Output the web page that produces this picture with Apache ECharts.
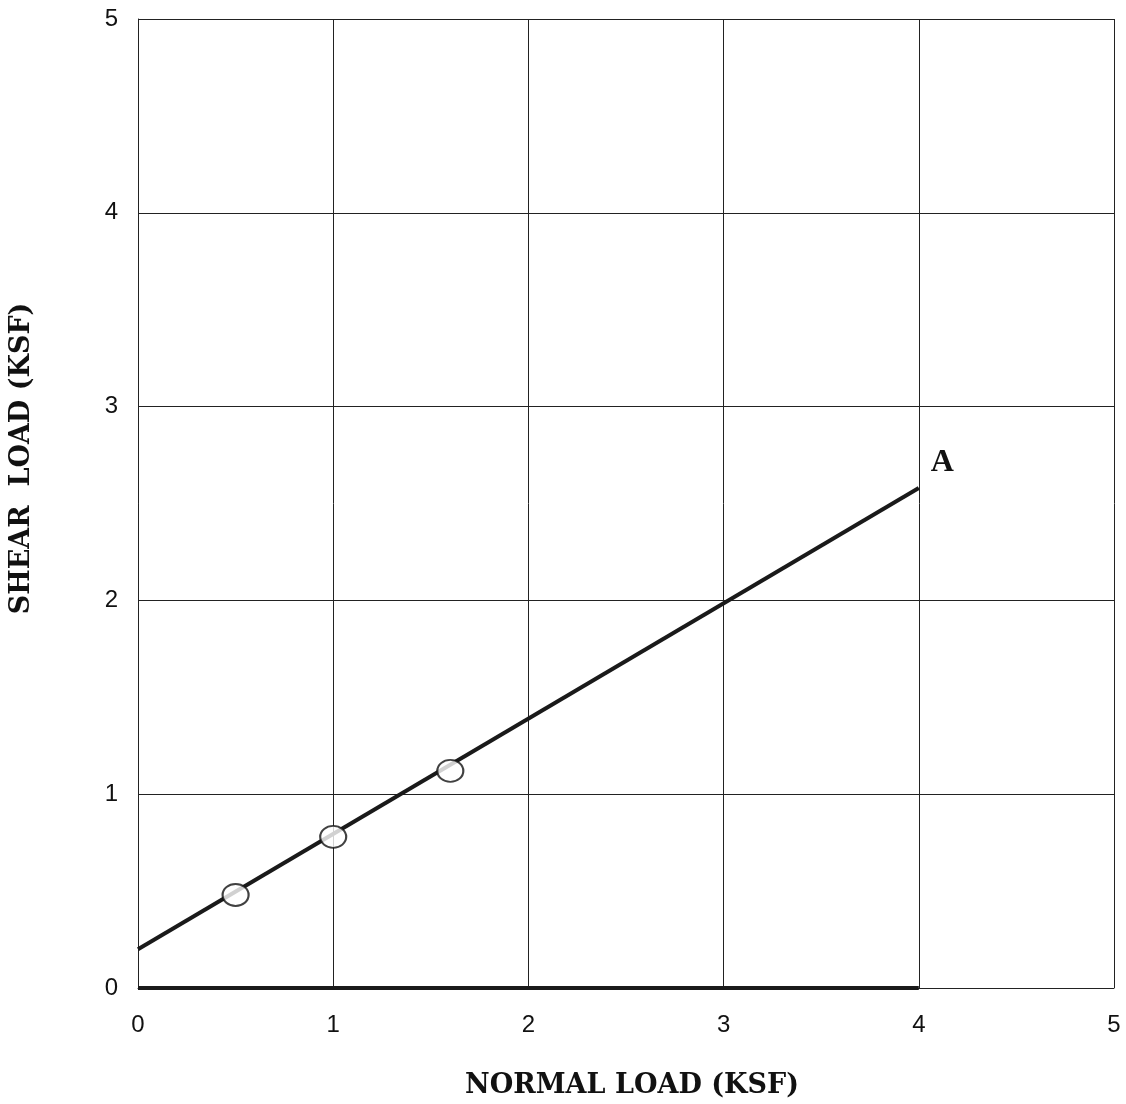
<!DOCTYPE html>
<html>
<head>
  <meta charset="UTF-8">
  <title>Shear vs Normal Load</title>
  <script src="https://cdn.jsdelivr.net/npm/echarts@6/dist/echarts.min.js"></script>
  <style>
    html, body { margin: 0; padding: 0; background: #fff; }
    #chart { width: 1126px; height: 1104px; }
  </style>
</head>
<body>
<div id="chart"></div>
<script>
// failure envelope (fitted line)
var envelopeX = [0, 4];
var envelopeY = [0.2, 2.58];
// test points
var testX = [0.5, 1.0, 1.6];
var testY = [0.48, 0.78, 1.12];
// heavy base line along zero shear
var baseX = [0, 4];
var baseY = [0, 0];
var endText = 'A';

function pairs(xs, ys) {
  return xs.map(function (x, i) { return [x, ys[i]]; });
}

var chart = echarts.init(document.getElementById('chart'));
var option = {
  animation: false,
  backgroundColor: '#fff',
  grid: { left: 137, right: 12, top: 19, bottom: 116 },
  xAxis: {
    type: 'value', min: 0, max: 5, interval: 1,
    name: 'NORMAL LOAD (KSF)', nameLocation: 'middle', nameGap: 84,
    nameTextStyle: { fontFamily: 'DejaVu Serif', fontWeight: 'bold', fontSize: 27, color: '#111', padding: [0, 0, 0, 12] },
    axisLine: { show: true, lineStyle: { color: '#222', width: 1 } },
    axisTick: { show: false },
    axisLabel: { fontFamily: 'Liberation Sans', fontSize: 24, color: '#111', margin: 25 },
    splitLine: { show: true, lineStyle: { color: '#222', width: 1 } }
  },
  yAxis: {
    type: 'value', min: 0, max: 5, interval: 1,
    name: 'SHEAR  LOAD (KSF)', nameLocation: 'middle', nameGap: 103,
    nameTextStyle: { fontFamily: 'DejaVu Serif', fontWeight: 'bold', fontSize: 27, color: '#111', padding: [0, 0, 0, 90] },
    axisLine: { show: true, lineStyle: { color: '#222', width: 1 } },
    axisTick: { show: false },
    axisLabel: { fontFamily: 'Liberation Sans', fontSize: 24, color: '#111', margin: 20 },
    splitLine: { show: true, lineStyle: { color: '#222', width: 1 } }
  },
  series: [
    {
      type: 'line', data: pairs(baseX, baseY), symbol: 'none',
      lineStyle: { color: '#1a1a1a', width: 4 }, z: 3
    },
    {
      type: 'line', data: pairs(envelopeX, envelopeY), symbol: 'none',
      lineStyle: { color: '#1a1a1a', width: 4 }, z: 3,
      endLabel: {
        show: true, formatter: endText, offset: [4, -25],
        fontFamily: 'Liberation Serif', fontWeight: 'bold', fontSize: 32, color: '#111'
      }
    },
    {
      type: 'scatter', data: pairs(testX, testY), symbol: 'circle', symbolSize: [26, 22],
      itemStyle: { color: '#fff', borderColor: '#111', borderWidth: 2 }, z: 5
    }
  ]
};
chart.setOption(option);
</script>
</body>
</html>
